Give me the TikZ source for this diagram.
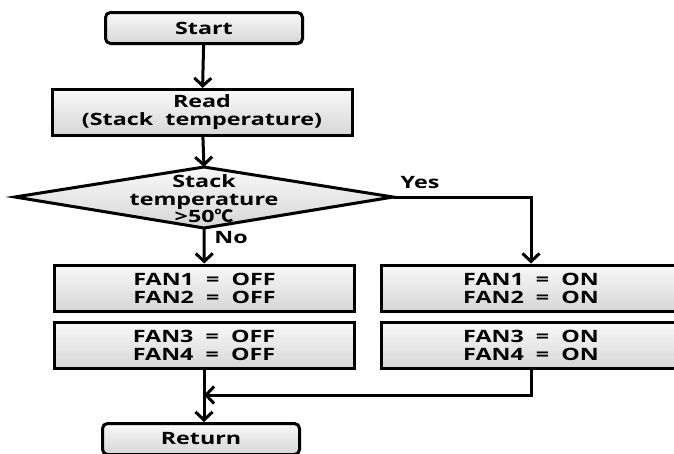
\documentclass[tikz,border=0pt]{standalone}
\usepackage{fontspec}
\setmainfont{Open Sans}[FakeStretch=1.37]
\newfontfamily\symfnt{Noto Sans CJK KR}[FakeStretch=1.1]
\usetikzlibrary{arrows.meta,shapes.geometric,shadows}
\begin{document}
\begin{tikzpicture}[x=1pt,y=-1pt,
  base/.style={draw=black,line width=3pt,top color=gray!5,bottom color=gray!32,
    drop shadow={shadow xshift=1.5pt,shadow yshift=-1.5pt,opacity=.25},
    font=\fontsize{17}{18}\selectfont\bfseries,align=center,inner sep=0pt},
  term/.style={base,rounded corners=5pt,minimum width=197pt,minimum height=31pt},
  proc/.style={base,minimum width=300pt,minimum height=46pt},
  arr/.style={line width=3pt,-{Straight Barb[length=8pt,width=17pt,line width=3pt]}},
  lbl/.style={font=\fontsize{17}{17.5}\selectfont\bfseries,inner sep=0pt}]
\useasboundingbox (0,0) rectangle (674,453);
\node[term] (start) at (204,28) {Start};
\node[proc] (read) at (202,112.5) {Read\\(Stack\ \ temperature)};
\path[base] (15,197) -- (204,167) -- (393,197) -- (204,228) -- cycle;
\coordinate (dtop) at (204,167);
\coordinate (dbot) at (204,228);
\coordinate (dright) at (393,197);
\node[lbl,align=center] (dlabel) at (204,199) {Stack\\temperature\\>50{\symfnt\bfseries ℃}};
\node[proc] (off1) at (204.5,288) {FAN1\ \ =\ \ OFF\\FAN2\ \ =\ \ OFF};
\node[proc] (off2) at (204,345.5) {FAN3\ \ =\ \ OFF\\FAN4\ \ =\ \ OFF};
\node[proc] (on1) at (531,288) {FAN1\ \ =\ \ ON\\FAN2\ \ =\ \ ON};
\node[proc] (on2) at (531,345.5) {FAN3\ \ =\ \ ON\\FAN4\ \ =\ \ ON};
\node[term] (ret) at (201,439) {Return};
\node[lbl] (yes) at (420,183) {Yes};
\node[lbl] (no) at (231,238) {No};
\coordinate (merge) at (204,395);
\draw[arr] (start) -- (read);
\draw[arr] (read) -- (dtop);
\draw[arr] (dbot) -- (off1);
\draw[arr] (dright) -| (on1);
\draw[line width=3pt] (off2.south) -- (merge);
\draw[arr] (merge) -- (ret.north -| merge);
\draw[arr] (on2.south) |- (merge);
\end{tikzpicture}
\end{document}
